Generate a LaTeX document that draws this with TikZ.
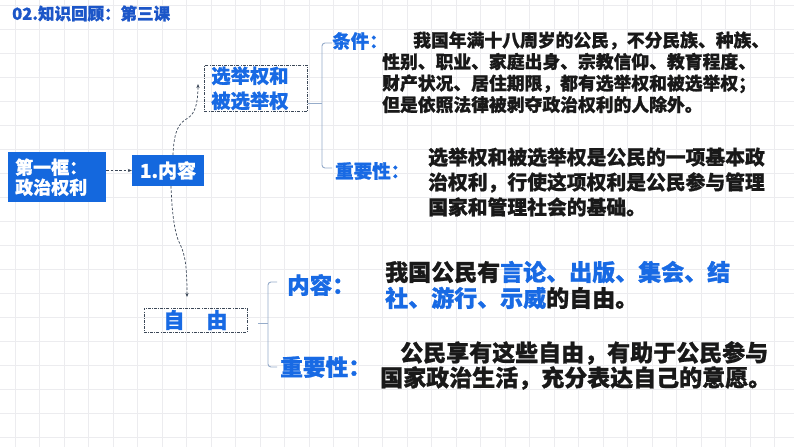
\documentclass[tikz,border=0pt]{standalone}
\usepackage{fontspec}
\newfontfamily\cjk{Noto Sans CJK SC}[BoldFeatures={FakeBold=1}]
\usetikzlibrary{arrows.meta}
\definecolor{gridc}{RGB}{236,236,239}
\definecolor{boxblue}{RGB}{20,104,222}
\definecolor{lblue}{RGB}{24,106,228}
\definecolor{tblue}{RGB}{28,86,200}
\definecolor{brc}{RGB}{150,172,202}
\definecolor{dashc}{RGB}{60,72,88}
\definecolor{txt}{RGB}{25,25,25}
\newcommand\fsz[2]{\fontsize{#1pt}{#2pt}\selectfont}
\tikzset{
  lab/.style={inner sep=0pt, anchor=west, text=lblue, font=\cjk\bfseries\fsz{18.5}{22}},
  para/.style={inner sep=0pt, anchor=west, align=left, text=txt},
  solidbox/.style={fill=boxblue, text=white},
  dbox/.style={draw=dashc, line width=0.7pt, dash pattern=on 3pt off 1.2pt on 0.8pt off 1.2pt, text=lblue},
  darrow/.style={draw=dashc, line width=0.7pt, dash pattern=on 2.5pt off 1.8pt, -{Stealth[length=4pt,width=3.2pt]}},
  bracket/.style={draw=brc, line width=0.9pt, rounded corners=3pt}
}
\begin{document}
\begin{tikzpicture}[x=1pt,y=-1pt]
\fill[white] (0,0) rectangle (794,447);
\useasboundingbox (0,0) rectangle (794,447);
\foreach \i in {0,...,31} \draw[gridc, line width=0.8pt] ({15+24.5*\i},0) -- ({15+24.5*\i},447);
\foreach \j in {0,...,18} \draw[gridc, line width=0.8pt] (0,{5+24*\j}) -- (794,{5+24*\j});

\node[inner sep=0pt, anchor=west, text=tblue, font=\cjk\bfseries\fsz{16.5}{20}] (title) at (12,13.5) {02.知识回顾：第三课};

\node[solidbox, anchor=north west, minimum height=50pt, text width=84pt, inner xsep=7pt, inner ysep=0pt, align=left, font=\cjk\bfseries\fsz{18}{20}] (k1) at (8,152) {第一框：\\政治权利};
\node[solidbox, minimum width=72pt, minimum height=31pt, inner sep=0pt, font=\cjk\bfseries\fsz{19}{22}] (nr) at (168,170.5) {1.内容};
\node[dbox, anchor=north west, minimum height=46pt, text width=89pt, inner xsep=7pt, inner ysep=0pt, align=left, font=\cjk\bfseries\fsz{19.3}{25}] (xj) at (204,65) {选举权和\\被选举权};
\node[dbox, minimum width=103pt, minimum height=24pt, inner sep=0pt, font=\cjk\bfseries\fsz{21}{24}] (zy) at (195.5,320) {自\hspace{22pt}由};

\node[lab] (tj) at (332,41) {条件：};
\node[lab] (zy1) at (335,171) {重要性：};
\node[lab, font=\cjk\bfseries\fsz{22.5}{26}] (nr2) at (287,285) {内容：};
\node[lab, font=\cjk\bfseries\fsz{22.7}{26}] (zy2) at (280,367) {重要性：};

\node[para, font=\cjk\bfseries\fsz{17.8}{21.5}] (p1) at (382,72.3) {\hspace*{31pt}我国年满十八周岁的公民，不分民族、种族、\\性别、职业、家庭出身、宗教信仰、教育程度、\\财产状况、居住期限，都有选举权和被选举权；\\但是依照法律被剥夺政治权利的人除外。};
\node[para, font=\cjk\bfseries\fsz{19.8}{25}] (p2) at (428,182) {选举权和被选举权是公民的一项基本政\\治权利，行使这项权利是公民参与管理\\国家和管理社会的基础。};
\node[para, font=\cjk\bfseries\fsz{23}{26}] (p3) at (385,285) {我国公民有\textcolor{lblue}{言论、出版、集会、结}\\\textcolor{lblue}{社、游行、示威}的自由。};
\node[para, font=\cjk\bfseries\fsz{23}{25}] (p4) at (380,365.5) {\hspace*{20pt}公民享有这些自由，有助于公民参与\\国家政治生活，充分表达自己的意愿。};

\draw[darrow] (k1.east |- nr.west) -- (nr.west);
\coordinate (a2) at (198,84);
\draw[darrow] ([xshift=5pt]nr.north) .. controls (174,130) and (179,123) .. (188,118) .. controls (196,113) and (198,100) .. (a2);
\coordinate (a3) at (187,297);
\draw[darrow] ([xshift=3pt]nr.south) .. controls (172,215) and (175,235) .. (180,244) .. controls (186,256) and (187,272) .. (a3);

\coordinate (b1) at (322,103);
\coordinate (b1t) at (332,43);
\coordinate (b1b) at (332,168);
\draw[bracket] (b1t) -| (b1) |- (b1b);
\draw[bracket] (xj.east |- b1) -- (b1);

\coordinate (b2) at (268,323);
\coordinate (b2t) at (277,282);
\coordinate (b2b) at (277,367);
\coordinate (b2s) at (258,323);
\draw[bracket] (b2t) -| (b2) |- (b2b);
\draw[bracket] (b2s) -- (b2);
\end{tikzpicture}
\end{document}
